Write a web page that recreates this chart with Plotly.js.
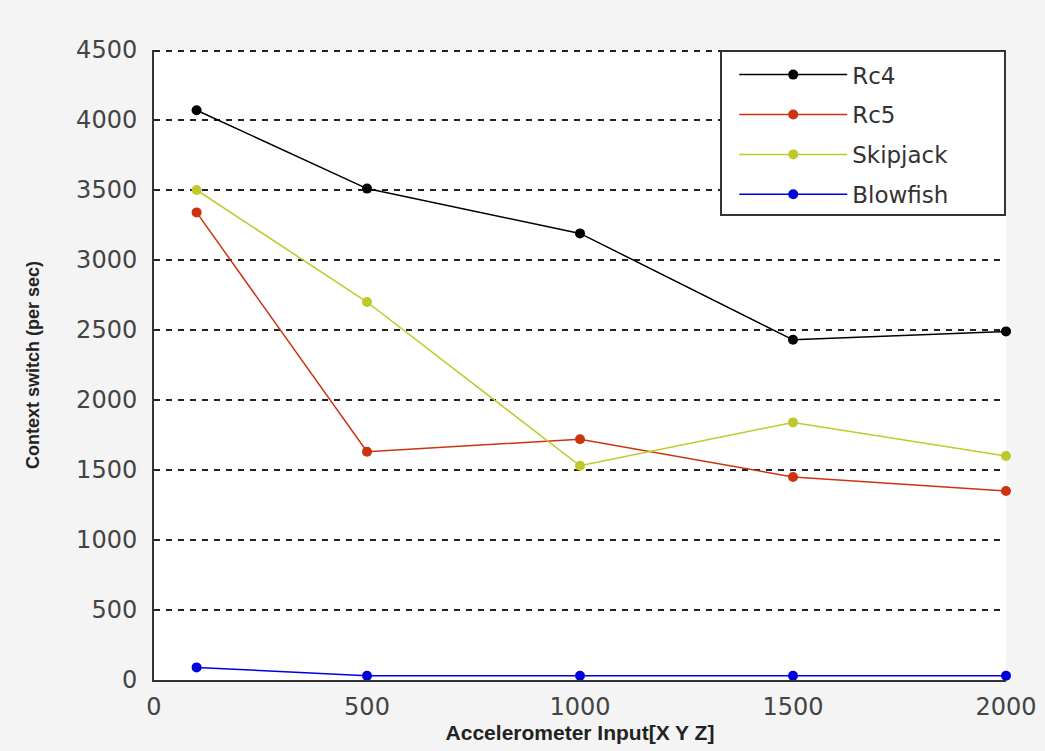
<!DOCTYPE html>
<html>
<head>
<meta charset="utf-8">
<script src="https://cdn.plot.ly/plotly-3.0.1.min.js"></script>
<style>html,body{margin:0;padding:0;background:#f4f4f4;}#chart{width:1045px;height:751px;}</style>
</head>
<body>
<div id="chart"></div>
<script>
const xInputs = [100, 500, 1000, 1500, 2000];
const rc4 = [4070, 3510, 3190, 2430, 2490];
const rc5 = [3340, 1630, 1720, 1450, 1350];
const skipjack = [3500, 2700, 1530, 1840, 1600];
const blowfish = [90, 30, 30, 30, 30];
const seriesNames = ['Rc4', 'Rc5', 'Skipjack', 'Blowfish'];
const seriesColors = ['#000000', '#cc3311', '#bfc92a', '#0000dd'];
const yTicks = [0, 500, 1000, 1500, 2000, 2500, 3000, 3500, 4000, 4500];
const xTicks = [0, 500, 1000, 1500, 2000];

const allSeries = [rc4, rc5, skipjack, blowfish];
const traces = allSeries.map((ys, i) => ({
  x: xInputs, y: ys, name: seriesNames[i], type: 'scatter', mode: 'lines+markers',
  legendgroup: 'g' + i,
  line: {color: seriesColors[i], width: 1.5},
  marker: {color: seriesColors[i], size: 10},
  cliponaxis: false
}));

const yMax = yTicks[yTicks.length - 1];

const layout = {
  width: 1045, height: 751,
  margin: {l: 154, r: 39, t: 50, b: 71},
  paper_bgcolor: '#f4f4f4', plot_bgcolor: '#ffffff',
  font: {family: 'DejaVu Sans, Liberation Sans, sans-serif', color: '#333333'},
  xaxis: {
    range: [0, 2000], tickvals: xTicks, ticktext: xTicks.map(String),
    showgrid: false, zeroline: false, showline: true, linecolor: '#333333', linewidth: 2,
    ticks: '', ticklabelstandoff: 4, tickfont: {size: 24, color: '#444444'},
    title: {text: '<b>Accelerometer Input[X Y Z]</b>', font: {family: 'Liberation Sans, Arial, sans-serif', size: 21, color: '#222222'}, standoff: 6}
  },
  yaxis: {
    range: [0, yMax], tickvals: yTicks, ticktext: yTicks.map(String),
    showgrid: true, gridcolor: '#222222', griddash: '6px,6px', gridwidth: 2,
    zeroline: false, showline: true, linecolor: '#333333', linewidth: 2,
    ticks: '', ticklabelstandoff: 10, tickfont: {size: 24, color: '#444444'},
    title: {text: '<b>Context switch (per sec)</b>', font: {family: 'Liberation Sans, Arial, sans-serif', size: 18, color: '#222222'}, standoff: 32}
  },
  shapes: [
    {type: 'line', xref: 'paper', yref: 'paper', x0: 0, x1: 1, y0: 0.9985, y1: 0.9985,
     line: {color: '#222222', width: 2, dash: '6px,6px'}, layer: 'below'},
    {type: 'rect', xref: 'paper', yref: 'paper', x0: 0.6655, x1: 0.9988, y0: 0.738, y1: 0.9985,
     fillcolor: '#ffffff', line: {color: '#333333', width: 2}, layer: 'above'}
  ],
  legend: {
    x: 0.681, y: 0.995, xanchor: 'left', yanchor: 'top',
    bgcolor: 'rgba(0,0,0,0)', borderwidth: 0,
    font: {size: 23, color: '#333333'}, itemwidth: 108, tracegroupgap: 7
  },
  showlegend: true
};

Plotly.newPlot('chart', traces, layout, {displayModeBar: false, staticPlot: true});
</script>
</body>
</html>
